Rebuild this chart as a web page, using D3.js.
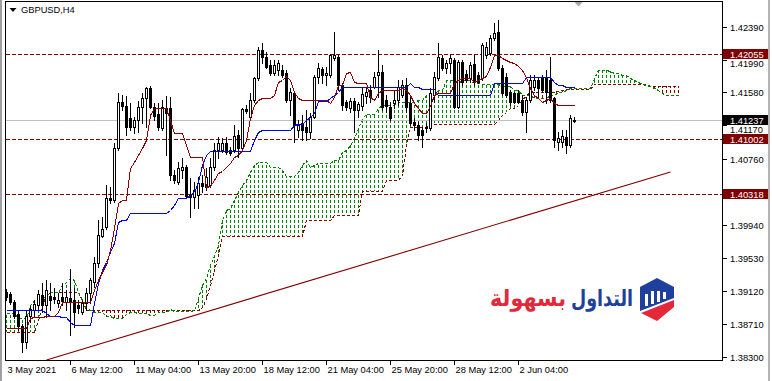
<!DOCTYPE html>
<html><head><meta charset="utf-8">
<script src="https://cdn.jsdelivr.net/npm/d3@7"></script>
<style>html,body{margin:0;padding:0;background:#fff;overflow:hidden}</style>
</head><body>
<svg id="c" width="772" height="381"></svg>
<script>
const symbolTitle = "GBPUSD,H4";
const timeLabels = ["3 May 2021","6 May 12:00","11 May 04:00","13 May 20:00","18 May 12:00","21 May 04:00","25 May 20:00","28 May 12:00","2 Jun 04:00"];
const timeLabelBars = [0,16,32,48,64,80,96,112,128];
const priceTicks = [1.42390,1.41985,1.41580,1.41170,1.40760,1.40350,1.39940,1.39530,1.39120,1.38710,1.38300];
const priceTickLabels = ["1.42390","1.41990","1.41580","1.41170","1.40760","1.40350","1.39940","1.39530","1.39120","1.38710","1.38300"];

const open = [
1.3911,1.3908,1.3898,1.3883,1.3868,1.3849,1.3881,1.3888,1.3894,1.3907,
1.3894,1.3906,1.3904,1.3897,1.3904,1.3898,1.3903,1.3901,1.3894,1.3886,
1.3897,1.3909,1.3923,1.3947,1.3980,1.3991,1.4027,1.4025,1.4089,1.4146,
1.4141,1.4126,1.4115,1.4124,1.4140,1.4151,1.4163,1.4140,1.4131,1.4114,
1.4139,1.4139,1.4056,1.4047,1.4062,1.4066,1.4031,1.4028,1.4031,1.4046,
1.4041,1.4043,1.4066,1.4087,1.4087,1.4095,1.4087,1.4087,1.4105,1.4089,
1.4137,1.4127,1.4149,1.4176,1.4211,1.4202,1.4192,1.4182,1.4186,1.4186,
1.4182,1.4149,1.4157,1.4111,1.4120,1.4115,1.4109,1.4127,1.4177,1.4187,
1.4180,1.4180,1.4201,1.4202,1.4167,1.4146,1.4139,1.4147,1.4136,1.4141,
1.4154,1.4161,1.4165,1.4180,1.4183,1.4149,1.4140,1.4145,1.4149,1.4155,
1.4167,1.4145,1.4121,1.4118,1.4111,1.4114,1.4114,1.4155,1.4176,1.4201,
1.4188,1.4194,1.4198,1.4140,1.4196,1.4181,1.4176,1.4193,1.4180,1.4176,
1.4204,1.4207,1.4225,1.4233,1.4188,1.4177,1.4158,1.4157,1.4157,1.4149,
1.4134,1.4149,1.4165,1.4173,1.4177,1.4177,1.4173,1.4151,1.4097,1.4097,
1.4103,1.4093,1.4122];
const high = [
1.3914,1.3911,1.3901,1.3888,1.3871,1.3888,1.3893,1.3901,1.3913,1.3922,
1.3925,1.3922,1.3916,1.3909,1.3922,1.3913,1.3939,1.3916,1.3901,1.3901,
1.3916,1.3928,1.3954,1.4000,1.4004,1.4043,1.4041,1.4095,1.4157,1.4155,
1.4154,1.4145,1.4127,1.4147,1.4157,1.4165,1.4166,1.4145,1.4145,1.4149,
1.4154,1.4152,1.4062,1.4072,1.4077,1.4068,1.4052,1.4047,1.4053,1.4056,
1.4064,1.4077,1.4095,1.4103,1.4101,1.4103,1.4090,1.4118,1.4111,1.4139,
1.4142,1.4157,1.4177,1.4214,1.4219,1.4208,1.4198,1.4198,1.4198,1.4192,
1.4186,1.4163,1.4158,1.4124,1.4130,1.4136,1.4132,1.4180,1.4194,1.4189,
1.4189,1.4205,1.4233,1.4204,1.4170,1.4149,1.4151,1.4151,1.4146,1.4165,
1.4165,1.4167,1.4183,1.4211,1.4192,1.4155,1.4146,1.4161,1.4173,1.4173,
1.4176,1.4152,1.4126,1.4121,1.4115,1.4120,1.4163,1.4183,1.4219,1.4204,
1.4198,1.4204,1.4201,1.4198,1.4198,1.4186,1.4196,1.4204,1.4183,1.4219,
1.4220,1.4229,1.4244,1.4248,1.4192,1.4182,1.4161,1.4158,1.4161,1.4155,
1.4152,1.4180,1.4180,1.4177,1.4180,1.4186,1.4202,1.4152,1.4109,1.4111,
1.4111,1.4130,1.4127];
const low = [
1.3901,1.3896,1.3878,1.3864,1.3836,1.3841,1.3873,1.3881,1.3888,1.3886,
1.3880,1.3888,1.3897,1.3892,1.3894,1.3888,1.3857,1.3867,1.3885,1.3883,
1.3888,1.3897,1.3917,1.3942,1.3979,1.3989,1.4021,1.4022,1.4087,1.4136,
1.4105,1.4111,1.4108,1.4109,1.4120,1.4115,1.4139,1.4124,1.4111,1.4111,
1.4080,1.4049,1.4046,1.4044,1.4052,1.4027,1.4004,1.4015,1.4015,1.4035,
1.4037,1.4041,1.4062,1.4077,1.4084,1.4082,1.4080,1.4084,1.4078,1.4087,
1.4132,1.4126,1.4146,1.4173,1.4194,1.4188,1.4180,1.4180,1.4180,1.4177,
1.4146,1.4130,1.4097,1.4103,1.4099,1.4099,1.4101,1.4126,1.4170,1.4170,
1.4167,1.4177,1.4198,1.4161,1.4136,1.4136,1.4134,1.4109,1.4127,1.4136,
1.4145,1.4146,1.4163,1.4152,1.4136,1.4134,1.4124,1.4139,1.4142,1.4152,
1.4134,1.4118,1.4111,1.4099,1.4090,1.4109,1.4111,1.4146,1.4173,1.4186,
1.4182,1.4182,1.4139,1.4139,1.4167,1.4171,1.4171,1.4167,1.4170,1.4173,
1.4201,1.4204,1.4223,1.4186,1.4155,1.4152,1.4142,1.4145,1.4145,1.4130,
1.4109,1.4146,1.4161,1.4151,1.4158,1.4145,1.4146,1.4090,1.4087,1.4090,
1.4083,1.4090,1.4121];
const close = [
1.3904,1.3898,1.3881,1.3868,1.3849,1.3881,1.3890,1.3896,1.3908,1.3894,
1.3913,1.3901,1.3902,1.3901,1.3899,1.3904,1.3898,1.3886,1.3891,1.3897,
1.3909,1.3925,1.3947,1.3981,1.3989,1.4027,1.4025,1.4089,1.4146,1.4141,
1.4115,1.4115,1.4124,1.4140,1.4151,1.4163,1.4140,1.4129,1.4115,1.4140,
1.4132,1.4056,1.4049,1.4064,1.4066,1.4030,1.4028,1.4037,1.4046,1.4042,
1.4053,1.4066,1.4087,1.4095,1.4095,1.4084,1.4083,1.4104,1.4089,1.4137,
1.4135,1.4149,1.4176,1.4211,1.4202,1.4189,1.4182,1.4192,1.4194,1.4180,
1.4149,1.4158,1.4118,1.4118,1.4111,1.4109,1.4127,1.4177,1.4188,1.4180,
1.4182,1.4204,1.4204,1.4167,1.4142,1.4140,1.4147,1.4136,1.4144,1.4156,
1.4158,1.4152,1.4177,1.4183,1.4140,1.4141,1.4126,1.4149,1.4165,1.4167,
1.4140,1.4120,1.4118,1.4105,1.4105,1.4115,1.4157,1.4177,1.4202,1.4188,
1.4194,1.4201,1.4140,1.4196,1.4171,1.4173,1.4192,1.4171,1.4171,1.4217,
1.4214,1.4225,1.4232,1.4188,1.4157,1.4155,1.4146,1.4146,1.4146,1.4134,
1.4149,1.4173,1.4173,1.4163,1.4161,1.4158,1.4149,1.4099,1.4101,1.4104,
1.4093,1.4126,1.41237];

const tenkan = [
1.3866,1.3866,1.3866,1.3866,1.3866,1.3866,1.3878,1.3880,1.3880,1.3880,
1.3881,1.3881,1.3881,1.3886,1.3898,1.3898,1.3898,1.3898,1.3898,1.3898,
1.3898,1.3898,1.3913,1.3925,1.3935,1.3944,1.3963,1.3990,1.4021,1.4025,
1.4025,1.4064,1.4072,1.4080,1.4089,1.4099,1.4130,1.4139,1.4139,1.4139,
1.4139,1.4124,1.4108,1.4108,1.4108,1.4093,1.4078,1.4078,1.4078,1.4078,
1.4041,1.4042,1.4049,1.4058,1.4061,1.4066,1.4070,1.4078,1.4080,1.4087,
1.4099,1.4126,1.4142,1.4149,1.4151,1.4151,1.4151,1.4155,1.4171,1.4173,
1.4178,1.4173,1.4158,1.4151,1.4149,1.4149,1.4149,1.4149,1.4149,1.4149,
1.4149,1.4145,1.4152,1.4167,1.4167,1.4182,1.4183,1.4171,1.4170,1.4170,
1.4170,1.4152,1.4149,1.4157,1.4161,1.4161,1.4161,1.4161,1.4161,1.4163,
1.4161,1.4155,1.4145,1.4139,1.4132,1.4132,1.4141,1.4155,1.4157,1.4157,
1.4157,1.4157,1.4170,1.4173,1.4176,1.4176,1.4176,1.4171,1.4173,1.4176,
1.4178,1.4189,1.4204,1.4204,1.4201,1.4198,1.4196,1.4194,1.4191,1.4186,
1.4177,1.4163,1.4155,1.4151,1.4146,1.4149,1.4151,1.4145,1.4142,1.4142,
1.4142,1.4142,1.4142];
const kijun = [
1.3888,1.3888,1.3888,1.3888,1.3888,1.3888,1.3888,1.3888,1.3888,1.3888,
1.3885,1.3881,1.3881,1.3881,1.3880,1.3880,1.3873,1.3870,1.3870,1.3870,
1.3870,1.3870,1.3897,1.3922,1.3938,1.3948,1.3960,1.3971,1.3997,1.4000,
1.4000,1.4009,1.4009,1.4009,1.4009,1.4009,1.4009,1.4009,1.4009,1.4009,
1.4009,1.4012,1.4018,1.4027,1.4027,1.4027,1.4031,1.4035,1.4047,1.4068,
1.4080,1.4085,1.4085,1.4085,1.4085,1.4085,1.4085,1.4085,1.4085,1.4085,
1.4085,1.4085,1.4099,1.4109,1.4111,1.4111,1.4111,1.4111,1.4111,1.4111,
1.4111,1.4111,1.4118,1.4119,1.4119,1.4124,1.4127,1.4132,1.4147,1.4147,
1.4147,1.4151,1.4155,1.4158,1.4165,1.4165,1.4165,1.4165,1.4165,1.4165,
1.4165,1.4165,1.4165,1.4165,1.4165,1.4165,1.4165,1.4165,1.4165,1.4165,
1.4165,1.4170,1.4165,1.4165,1.4162,1.4162,1.4162,1.4162,1.4155,1.4155,
1.4155,1.4155,1.4155,1.4155,1.4155,1.4155,1.4155,1.4155,1.4155,1.4155,
1.4155,1.4155,1.4170,1.4170,1.4170,1.4170,1.4170,1.4170,1.4170,1.4170,
1.4177,1.4177,1.4177,1.4177,1.4177,1.4177,1.4177,1.4171,1.4167,1.4167,
1.4165,1.4165,1.4165];
const spanA = [
1.3885,1.3885,1.3885,1.3878,1.3878,1.3878,1.3894,1.3901,1.3903,1.3904,
1.3906,1.3911,1.3911,1.3911,1.3919,1.3923,1.3928,1.3925,1.3911,1.3901,
1.3891,1.3888,1.3886,1.3886,1.3886,1.3881,1.3881,1.3878,1.3878,1.3878,
1.3883,1.3886,1.3886,1.3885,1.3885,1.3885,1.3882,1.3882,1.3886,1.3886,
1.3886,1.3890,1.3887,1.3887,1.3887,1.3887,1.3887,1.3888,1.3903,1.3919,
1.3928,1.3944,1.3956,1.3969,1.4000,1.4012,1.4015,1.4025,1.4035,1.4043,
1.4049,1.4059,1.4068,1.4072,1.4072,1.4072,1.4066,1.4066,1.4066,1.4062,
1.4054,1.4054,1.4054,1.4059,1.4068,1.4074,1.4066,1.4068,1.4070,1.4070,
1.4070,1.4070,1.4074,1.4074,1.4084,1.4087,1.4093,1.4101,1.4114,1.4126,
1.4131,1.4131,1.4131,1.4139,1.4142,1.4142,1.4142,1.4142,1.4146,1.4146,
1.4146,1.4146,1.4146,1.4149,1.4149,1.4155,1.4155,1.4155,1.4161,1.4161,
1.4173,1.4173,1.4173,1.4170,1.4173,1.4173,1.4173,1.4170,1.4170,1.4168,
1.4168,1.4168,1.4168,1.4168,1.4166,1.4166,1.4166,1.4161,1.4161,1.4155,
1.4155,1.4155,1.4151,1.4151,1.4151,1.4151,1.4155,1.4155,1.4158,1.4158,
1.4161,1.4163,1.4163,1.4163,1.4163,1.4163,1.4163,1.4176,1.4186,1.4186,
1.4186,1.4185,1.4182,1.4182,1.4180,1.4180,1.4176,1.4173,1.4171,1.4168,
1.4167,1.4166,1.4163,1.4161,1.4157,1.4155,1.4155,1.4155,1.4155];
const spanB = [
1.3861,1.3861,1.3861,1.3861,1.3861,1.3861,1.3861,1.3861,1.3876,1.3894,
1.3907,1.3911,1.3911,1.3911,1.3911,1.3911,1.3911,1.3911,1.3911,1.3901,
1.3888,1.3888,1.3888,1.3888,1.3888,1.3888,1.3888,1.3888,1.3888,1.3888,
1.3888,1.3888,1.3888,1.3888,1.3888,1.3888,1.3888,1.3888,1.3888,1.3888,
1.3888,1.3888,1.3888,1.3888,1.3888,1.3888,1.3888,1.3888,1.3888,1.3891,
1.3903,1.3919,1.3938,1.3956,1.3980,1.3980,1.3980,1.3980,1.3980,1.3980,
1.3980,1.3980,1.3980,1.3980,1.3980,1.3980,1.3980,1.3980,1.3980,1.3980,
1.3980,1.3980,1.3980,1.3980,1.3980,1.4000,1.4000,1.4000,1.4000,1.4000,
1.4000,1.4000,1.4006,1.4006,1.4006,1.4006,1.4006,1.4006,1.4006,1.4036,
1.4036,1.4036,1.4036,1.4036,1.4036,1.4049,1.4049,1.4049,1.4049,1.4056,
1.4093,1.4115,1.4115,1.4115,1.4115,1.4115,1.4119,1.4119,1.4119,1.4119,
1.4119,1.4119,1.4119,1.4119,1.4119,1.4119,1.4119,1.4119,1.4119,1.4119,
1.4119,1.4119,1.4119,1.4124,1.4130,1.4134,1.4139,1.4139,1.4142,1.4149,
1.4155,1.4158,1.4158,1.4158,1.4158,1.4158,1.4158,1.4158,1.4160,1.4161,
1.4162,1.4162,1.4162,1.4162,1.4162,1.4162,1.4162,1.4168,1.4168,1.4168,
1.4168,1.4168,1.4168,1.4168,1.4168,1.4168,1.4168,1.4168,1.4168,1.4168,
1.4168,1.4166,1.4166,1.4166,1.4166,1.4166,1.4166,1.4166,1.4166];

const levelPrices = [1.42055, 1.41002, 1.40318];
const bidPrice = 1.41237;
const trendBars = [10, 166];
const trendPrices = [1.38263, 1.40594];
const logoWord1 = "التداول";
const logoWord2 = "بسهولة";

const FONT = "'Liberation Sans', Arial, sans-serif";
const MAROON = "#800000", GREEN = "#008000";
const svg = d3.select("#c");
const x = d3.scaleLinear().domain([0, 1]).range([6.5, 10.5]);
const y = d3.scaleLinear().domain([1.38300, 1.42390]).range([357, 27]);
const ry = v => Math.round(y(v));

svg.append("rect").attr("x",0).attr("y",0).attr("width",772).attr("height",381).attr("fill","#fff");
svg.append("rect").attr("x",0).attr("y",0).attr("width",2).attr("height",381).attr("fill","#a0a0a0");
svg.append("rect").attr("x",768).attr("y",0).attr("width",2).attr("height",381).attr("fill","#b4b4b4");

svg.append("defs").append("clipPath").attr("id","clip")
  .append("rect").attr("x",6).attr("y",2).attr("width",716).attr("height",358);

const g = svg.append("g").attr("clip-path","url(#clip)").attr("shape-rendering","crispEdges");

// cloud hatching
spanA.forEach((a,i)=>{
  const b = spanB[i];
  const ya = ry(a), yb = ry(b);
  if (ya === yb) return;
  const t = Math.min(ya,yb), bt = Math.max(ya,yb);
  g.append("line").attr("x1",x(i)).attr("x2",x(i)).attr("y1",t).attr("y2",bt)
    .attr("stroke", a > b ? GREEN : MAROON).attr("stroke-width",1)
    .attr("stroke-dasharray","3,2").attr("stroke-dashoffset", t % 5);
});
const lineGen = d3.line().x((d,i)=>x(i)).y(d=>ry(d)+0.5);
g.append("path").attr("d",lineGen(spanB)).attr("fill","none").attr("stroke",MAROON).attr("stroke-dasharray","3,2");
g.append("path").attr("d",lineGen(spanA)).attr("fill","none").attr("stroke",GREEN).attr("stroke-dasharray","3,2");

// level lines
levelPrices.forEach(p=>{
  g.append("line").attr("x1",6).attr("x2",722).attr("y1",ry(p)+0.5).attr("y2",ry(p)+0.5)
    .attr("stroke",MAROON).attr("stroke-dasharray","4,2");
});
g.append("line").attr("x1",6).attr("x2",722).attr("y1",ry(bidPrice)+0.5).attr("y2",ry(bidPrice)+0.5)
  .attr("stroke","#c0c0c0");

// trend line
g.append("line").attr("x1",x(trendBars[0])).attr("y1",y(trendPrices[0]))
  .attr("x2",x(trendBars[1])).attr("y2",y(trendPrices[1])).attr("stroke",MAROON).attr("stroke-width",1.1)
  .attr("shape-rendering","auto");

// candles
open.forEach((o,i)=>{
  const px = x(i) - 0.5;
  const yh = ry(high[i]), yl = ry(low[i]), yo = ry(o), yc = ry(close[i]);
  g.append("rect").attr("x",px).attr("y",yh).attr("width",1).attr("height",yl-yh+1).attr("fill","#000");
  const top = Math.min(yo,yc), bot = Math.max(yo,yc);
  g.append("rect").attr("x",px-1).attr("y",top).attr("width",3).attr("height",bot-top+1).attr("fill","#000");
  if (close[i] > o && bot-top >= 2)
    g.append("rect").attr("x",px).attr("y",top+1).attr("width",1).attr("height",bot-top-1).attr("fill","#fff");
});

// tenkan & kijun
g.append("path").attr("d",lineGen(kijun)).attr("fill","none").attr("stroke","#0000ff");
g.append("path").attr("d",lineGen(tenkan)).attr("fill","none").attr("stroke","#8b0000");

// watermark logo
const logo = svg.append("g");
logo.append("polygon").attr("points","640,287 657,278 674,287 674,298 640,311").attr("fill","#1f3f9c");
[[645,294,306],[651,291,304],[657,291,302],[663,292,299]].forEach(b=>{
  logo.append("rect").attr("x",b[0]).attr("y",b[1]).attr("width",3).attr("height",b[2]-b[1]).attr("fill","#fff");
});
logo.append("polygon").attr("points","641,313 674,300 674,307 657,321").attr("fill","#e3283a");
logo.append("text").attr("x",602).attr("y",306).attr("text-anchor","middle")
  .attr("font-family","'DejaVu Sans', sans-serif").attr("font-weight","bold").attr("font-size",23)
  .attr("fill","#1f3f9c").attr("textLength",62).attr("lengthAdjust","spacingAndGlyphs").text(logoWord1);
logo.append("text").attr("x",528).attr("y",306).attr("text-anchor","middle")
  .attr("font-family","'DejaVu Sans', sans-serif").attr("font-weight","bold").attr("font-size",23)
  .attr("fill","#e3283a").attr("textLength",76).attr("lengthAdjust","spacingAndGlyphs").text(logoWord2);

// frame
const fr = svg.append("g").attr("shape-rendering","crispEdges").attr("stroke","#000");
fr.append("line").attr("x1",5.5).attr("x2",5.5).attr("y1",1).attr("y2",361);
fr.append("line").attr("x1",5).attr("x2",723).attr("y1",1.5).attr("y2",1.5);
fr.append("line").attr("x1",5).attr("x2",723).attr("y1",360.5).attr("y2",360.5);
fr.append("line").attr("x1",722.5).attr("x2",722.5).attr("y1",1).attr("y2",361);

// x axis
timeLabelBars.forEach((b,k)=>{
  const tx = x(b);
  if (k>0) fr.append("line").attr("x1",tx).attr("x2",tx).attr("y1",361).attr("y2",365);
  svg.append("text").attr("x",Math.max(tx+1,7)).attr("y",373).attr("font-family",FONT).attr("font-size",9.3)
    .attr("fill","#000").text(timeLabels[k]);
});

// price label boxes (positions needed for the axis label placement)
const boxes = levelPrices.map(p=>({p, fill:MAROON})).concat([{p:bidPrice, fill:"#000"}]);
const boxSpans = boxes.map(bx=>[ry(bx.p)-5, ry(bx.p)+5]);

// y axis: ticks; a label that would sit under a price box is nudged just below it,
// and one fully covered by a box (hidden in the original) is left out
priceTicks.forEach((p,k)=>{
  const ty = ry(p);
  fr.append("line").attr("x1",723).attr("x2",727).attr("y1",ty+0.5).attr("y2",ty+0.5);
  let base = ty + 3.5;
  let hidden = false;
  boxSpans.forEach(s=>{
    const top = base - 7, bot = base + 1;
    if (bot > s[0] && top < s[1]) {
      if (ty >= s[0] && ty <= s[1] && Math.abs(ty - (s[0]+s[1])/2) < 4) hidden = true;
      else base = s[1] + 7.5;
    }
  });
  if (!hidden)
    svg.append("text").attr("x",730).attr("y",base).attr("font-family",FONT).attr("font-size",9.3)
      .attr("fill","#000").text(priceTickLabels[k]);
});

boxes.forEach(bx=>{
  const ty = ry(bx.p);
  svg.append("rect").attr("x",723).attr("y",ty-5).attr("width",45).attr("height",10).attr("fill",bx.fill);
  svg.append("text").attr("x",730).attr("y",ty+3.5).attr("font-family",FONT).attr("font-size",9.3)
    .attr("fill","#fff").text(bx.p.toFixed(5));
});

// title
svg.append("polygon").attr("points","9.5,8 16.5,8 13,12").attr("fill","#000");
svg.append("text").attr("x",21).attr("y",13).attr("font-family",FONT).attr("font-size",9.3)
  .attr("fill","#000").text(symbolTitle);
svg.append("polygon").attr("points","574.5,2 582.5,2 578.5,6.5").attr("fill","#a8a8a8");
</script>
</body></html>
